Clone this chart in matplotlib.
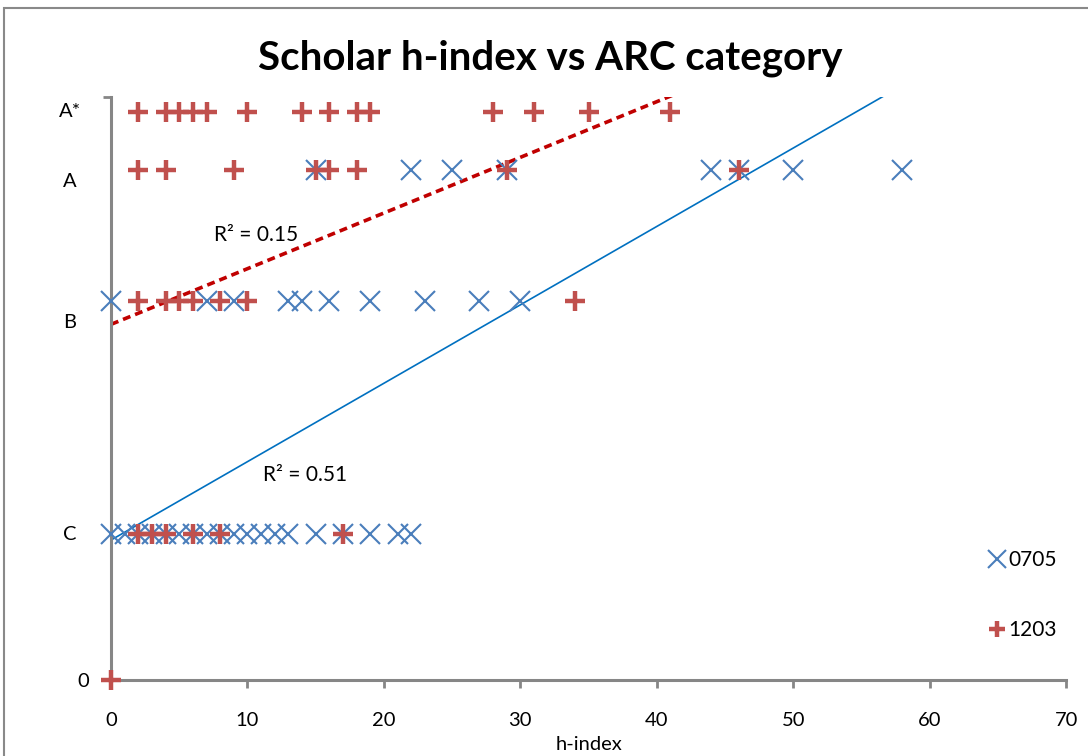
import matplotlib
matplotlib.use("Agg")
import matplotlib.pyplot as plt
from matplotlib.patches import Rectangle

plt.rcParams['font.family'] = ['Lato', 'DejaVu Sans']

# category levels as plotted on the y scale
cat_levels = {'0': 0.0, 'C': 1.0, 'B': 2.6, 'A': 3.5, 'A*': 3.9}
cat_label_pos = {'C': 1.0, 'B': 2.456, 'A': 3.42, 'A*': 3.90}

# series 0705 (blue x) h-index values per category
s0705_C = [0, 1, 2, 3, 4, 5, 6, 7, 8, 9, 10, 11, 12, 13, 15, 17, 19, 21, 22]
s0705_B = [0, 7, 9, 13, 14, 16, 19, 23, 27, 30]
s0705_A = [15, 22, 25, 29, 44, 46, 50, 58]

# series 1203 (red +) h-index values per category
s1203_0 = [0]
s1203_C = [2, 3, 4, 6, 8, 17]
s1203_B = [2, 4, 5, 6, 8, 10, 34]
s1203_A = [2, 4, 9, 15, 16, 18, 29, 46]
s1203_Astar = [2, 4, 5, 6, 7, 10, 14, 16, 18, 19, 28, 31, 35, 41]

# linear trendlines (intercept, slope, R²)
trend_0705 = (0.96, 0.0538, 0.51)
trend_1203 = (2.44, 0.0382, 0.15)

blue = '#4A7EBB'
red = '#C0504D'

x_blue = s0705_C + s0705_B + s0705_A
y_blue = ([cat_levels['C']] * len(s0705_C) + [cat_levels['B']] * len(s0705_B)
          + [cat_levels['A']] * len(s0705_A))
x_red = s1203_0 + s1203_C + s1203_B + s1203_A + s1203_Astar
y_red = ([cat_levels['0']] * len(s1203_0) + [cat_levels['C']] * len(s1203_C)
         + [cat_levels['B']] * len(s1203_B) + [cat_levels['A']] * len(s1203_A)
         + [cat_levels['A*']] * len(s1203_Astar))

fig = plt.figure(figsize=(10.88, 7.56), dpi=100)
ax = fig.add_axes([0.102, 0.1005, 0.878, 0.7712])

# outer chart border
fig.patches.append(Rectangle((4 / 1088, -0.1), 1.2, 1 - 8 / 756 + 0.1,
                             transform=fig.transFigure, fill=False,
                             edgecolor='#898989', linewidth=1.5))

ax.plot(x_blue, y_blue, linestyle='none', marker='x', markersize=14.5,
        markeredgewidth=1.5, color=blue, label='0705', clip_on=False, zorder=3)
ax.plot(x_red, y_red, linestyle='none', marker='+', markersize=14,
        markeredgewidth=3.2, color=red, label='1203', clip_on=False, zorder=3)

# trendlines
xs = [0, 70]
b0, m0, r0 = trend_0705
ax.plot(xs, [b0 + m0 * x for x in xs], color='#0070C0', linewidth=1.2, zorder=2)
b1, m1, r1 = trend_1203
ax.plot(xs, [b1 + m1 * x for x in xs], color='#C00000', linewidth=2.6,
        linestyle=(0, (2.2, 1.4)), zorder=2)

ax.text(10.6, 3.05, f'R² = {r1:.2f}', fontsize=15, ha='center', va='center')
ax.text(14.2, 1.41, f'R² = {r0:.2f}', fontsize=15, ha='center', va='center')

ax.set_xlim(0, 70)
ax.set_ylim(0, 4)
ax.set_xticks(range(0, 71, 10))
ax.set_yticks([0, 4])
ax.set_yticklabels(['0', ''])
for s in ['top', 'right']:
    ax.spines[s].set_visible(False)
for s in ['left', 'bottom']:
    ax.spines[s].set_color('#868686')
    ax.spines[s].set_linewidth(2.2)
ax.tick_params(axis='both', colors='#868686', width=2, length=6,
               labelsize=14.5, labelcolor='black')
ax.tick_params(axis='x', pad=17)
ax.tick_params(axis='y', pad=10)

for lab, yv in cat_label_pos.items():
    ax.text(-0.043, yv, lab, transform=ax.get_yaxis_transform(),
            fontsize=14.5, ha='center', va='center')

ax.set_xlabel('h-index', fontsize=14.5, labelpad=5)
fig.suptitle('Scholar h-index vs ARC category', fontsize=29, fontweight='bold',
             x=0.506, y=0.923, va='center')

ax.legend(loc='center left', bbox_to_anchor=(0.9, 0.146), frameon=False,
          fontsize=15, handlelength=0.7, handletextpad=0.2, labelspacing=2.4,
          markerscale=0.85)

fig.savefig('out.png', dpi=100)
